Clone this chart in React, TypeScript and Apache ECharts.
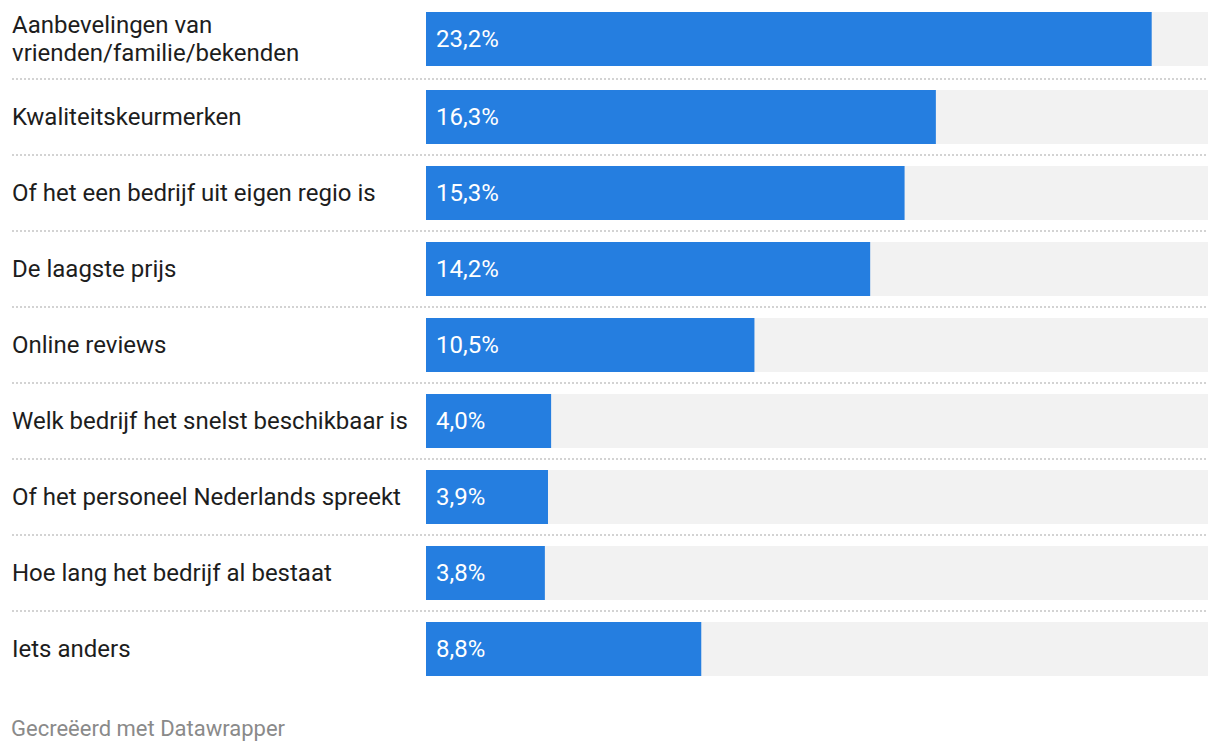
import React, { useEffect, useRef } from "react";
import * as echarts from "echarts";

const categories = [
  "Aanbevelingen van vrienden/familie/bekenden",
  "Kwaliteitskeurmerken",
  "Of het een bedrijf uit eigen regio is",
  "De laagste prijs",
  "Online reviews",
  "Welk bedrijf het snelst beschikbaar is",
  "Of het personeel Nederlands spreekt",
  "Hoe lang het bedrijf al bestaat",
  "Iets anders",
];
const values = [23.2, 16.3, 15.3, 14.2, 10.5, 4.0, 3.9, 3.8, 8.8];
const axisMax = 25;
const footerText = "Gecreëerd met Datawrapper";

const FONT = "Roboto";
const BLUE = "#257ee0";
const LABEL_LEFT_OFFSET = 414;
const MAX_LABEL_CHARS = 40;

// wrap at spaces only (like the reference), never inside a word
function wrapWords(s: string): string {
  const words = s.split(" ");
  const lines: string[] = [];
  let cur = "";
  for (const w of words) {
    const next = cur ? cur + " " + w : w;
    if (next.length > MAX_LABEL_CHARS && cur) {
      lines.push(cur);
      cur = w;
    } else {
      cur = next;
    }
  }
  if (cur) lines.push(cur);
  return lines.join("\n");
}

export default function App() {
  const ref = useRef<HTMLDivElement>(null);
  useEffect(() => {
    if (!ref.current) return;
    const chart = echarts.init(ref.current, undefined, { renderer: "svg" });

    const firstCats = categories.slice(0, 1);
    const firstVals = values.slice(0, 1);
    const restCats = categories.slice(1);
    const restVals = values.slice(1);

    const fmt = (v: number) => v.toFixed(1).replace(".", ",") + "%";

    const yAxisBase = (data: string[], gridIndex: number) => ({
      type: "category",
      gridIndex,
      data,
      inverse: true,
      axisLine: { show: false },
      axisTick: { show: false },
      splitLine: { show: false },
      axisLabel: {
        align: "left",
        margin: LABEL_LEFT_OFFSET,
        formatter: (v: string) => wrapWords(v),
        fontFamily: FONT,
        fontSize: 24,
        lineHeight: 28,
        color: "#1d1d1d",
      },
    });
    const xAxisBase = (gridIndex: number) => ({
      type: "value",
      gridIndex,
      min: 0,
      max: axisMax,
      show: false,
    });
    const barSeries = (data: number[], idx: number) => ({
      type: "bar",
      xAxisIndex: idx,
      yAxisIndex: idx,
      data,
      barWidth: 54,
      showBackground: true,
      backgroundStyle: { color: "#f2f2f2" },
      itemStyle: { color: BLUE },
      label: {
        show: true,
        position: "insideLeft",
        distance: 10,
        color: "#ffffff",
        fontFamily: FONT,
        fontSize: 24,
        formatter: (p: any) => fmt(p.value),
      },
    });

    const sepSeries = {
      type: "custom",
      xAxisIndex: 1,
      yAxisIndex: 1,
      silent: true,
      z: 1,
      data: restCats.map((_, i) => [0, i]),
      encode: { x: 0, y: 1 },
      renderItem: (params: any, api: any) => {
        const c = api.coord([0, api.value(1)]);
        const band = api.size([0, 1])[1];
        const y = Math.round(c[1] - band / 2);
        const cs = params.coordSys;
        return {
          type: "line",
          shape: { x1: cs.x - LABEL_LEFT_OFFSET, y1: y, x2: cs.x + cs.width, y2: y },
          style: { stroke: "#d3d3d3", lineWidth: 2, lineDash: [2, 2] },
        };
      },
    };

    chart.setOption({
      animation: false,
      textStyle: { fontFamily: FONT },
      title: {
        text: footerText,
        left: 11,
        top: 717,
        padding: 0,
        textStyle: { fontFamily: FONT, fontSize: 22, fontWeight: "normal", color: "#8a8a8a" },
      },
      grid: [
        { left: 426, right: 12, top: 0, height: 78 },
        { left: 426, right: 12, top: 79, height: 608 },
      ],
      xAxis: [xAxisBase(0), xAxisBase(1)],
      yAxis: [yAxisBase(firstCats, 0), yAxisBase(restCats, 1)],
      series: [barSeries(firstVals, 0), barSeries(restVals, 1), sepSeries],
    });
    return () => chart.dispose();
  }, []);

  return (
    <div
      ref={ref}
      style={{ position: "absolute", left: 0, top: 0, width: 1220, height: 752 }}
    />
  );
}
